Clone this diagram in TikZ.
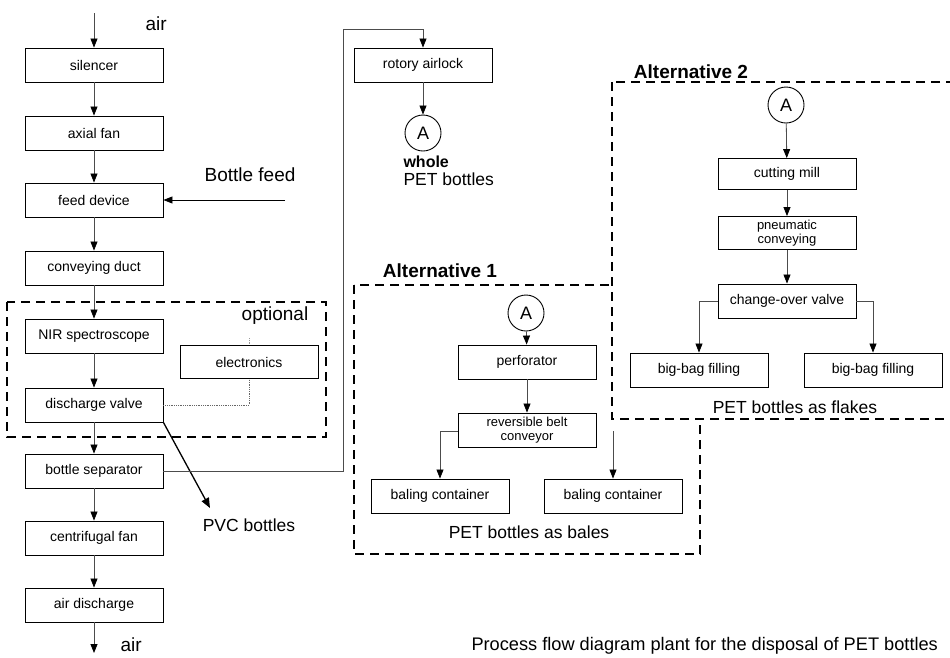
\documentclass[tikz,border=0pt]{standalone}
\usepackage{fontspec}
\setmainfont{Liberation Sans}
\usetikzlibrary{arrows.meta}

\begin{document}
\begin{tikzpicture}[x=1pt, y=-1pt,
  unit/.style={draw, line width=0.9pt, minimum width=138pt, minimum height=34pt,
    inner sep=1pt, align=center, font=\fontsize{14}{15}\selectfont},
  marker/.style={draw, circle, line width=0.9pt, minimum size=36pt, inner sep=0pt,
    font=\fontsize{18}{18}\selectfont},
  conn/.style={draw=black!70, line width=0.8pt},
  flow/.style={conn, -{Triangle[length=9pt, width=7pt, black]}},
  frame/.style={dash pattern=on 9pt off 6pt, line width=1.5pt},
  big/.style={font=\fontsize{19}{21}\selectfont},
  mid/.style={font=\fontsize{17.5}{18}\selectfont},
  head/.style={font=\fontsize{19}{21}\selectfont\bfseries}]

\useasboundingbox (0,0) rectangle (950,657);

\draw[frame] (7,302) rectangle (326,437);
\draw[frame] (354,285) rectangle (700,554);
\draw[frame, fill=white] (612,82) rectangle (964,419);

\node[unit] (silencer) at (94,65) {silencer};
\node[unit] (axial) at (94,133) {axial fan};
\node[unit] (feed) at (94,200) {feed device};
\node[unit] (duct) at (94,268) {conveying duct};
\node[unit] (nir) at (94,336) {NIR spectroscope};
\node[unit] (valve) at (94,405) {discharge valve};
\node[unit] (sep) at (94,471) {bottle separator};
\node[unit] (cfan) at (94,538) {centrifugal fan};
\node[unit] (outlet) at (94,605) {air discharge};
\node[unit, minimum height=33pt] (elec) at (249,362) {electronics};

\node[big, anchor=base west] (airtop) at (142,30) {air};
\node[big, anchor=base west] (airbot) at (117,651) {air};
\node[big] (feedtxt) at (250,175) {Bottle feed};
\node[big] (opttxt) at (275,316) {optional};
\node[mid] (pvctxt) at (249,525) {PVC bottles};

\node[unit] (airlock) at (423,65) {rotory airlock};
\node[marker] (a0) at (423,133) {A};
\node[mid, anchor=west, align=left] (wholetxt) at (400,171)
  {\fontsize{16}{18}\selectfont\bfseries whole\\PET bottles};

\node[head] (alt1) at (440,271) {Alternative 1};
\node[marker] (a1) at (526,313) {A};
\node[unit] (perf) at (527,362) {perforator};
\node[unit, font=\fontsize{13}{14.5}\selectfont] (belt) at (527,430) {reversible belt\\conveyor};
\node[unit] (bale1) at (440,496) {baling container};
\node[unit] (bale2) at (613,496) {baling container};
\node[mid] (balestxt) at (529,532) {PET bottles as bales};

\node[head] (alt2) at (691,72) {Alternative 2};
\node[marker] (a2) at (786,105) {A};
\node[unit, minimum height=31pt] (mill) at (787,174) {cutting mill};
\node[unit, minimum height=33pt, font=\fontsize{13}{14.5}\selectfont] (pneu) at (787,233) {pneumatic\\conveying};
\node[unit] (switch) at (787,301) {change-over valve};
\node[unit] (bag1) at (699,370) {big-bag filling};
\node[unit] (bag2) at (873,370) {big-bag filling};
\node[mid] (flakestxt) at (795,407) {PET bottles as flakes};

\node[anchor=base west, font=\fontsize{18.2}{20}\selectfont] (caption) at (468,650)
  {Process flow diagram plant for the disposal of PET bottles};

\coordinate (airin) at (94,13);
\coordinate (airout) at (94,653);
\coordinate (feedin) at (285,200);
\coordinate (turn) at (343,29);
\coordinate (pvc) at (210,508);
\coordinate (stub) at (249,338);
\coordinate (belt2) at (613,431);

\draw[flow] (airin) -- (silencer);
\draw[flow] (silencer) -- (axial);
\draw[flow] (axial) -- (feed);
\draw[flow] (feed) -- (duct);
\draw[flow] (duct) -- (nir);
\draw[flow] (nir) -- (valve);
\draw[flow] (valve) -- (sep);
\draw[flow] (sep) -- (cfan);
\draw[flow] (cfan) -- (outlet);
\draw[flow] (outlet) -- (airout);
\draw[flow, draw=black] (feedin) -- (feed.east);
\draw[densely dotted, black!60, line width=0.8pt] (valve.east) -| (elec.south);
\draw[densely dotted, black!40, line width=0.8pt] (stub) -- (elec.north);
\draw[line width=1.3pt, -{Triangle[length=10pt, width=8pt]}] (valve.south east) -- (pvc);

\draw[flow] (sep.east) -| (turn) -| (airlock.north);
\draw[flow] (airlock) -- (a0);

\draw[flow] (a1) -- (perf);
\draw[flow] (perf) -- (belt);
\draw[flow] (belt.west) ++(0,1) -| (bale1.north);
\draw[flow] (belt2) -- (bale2.north);

\draw[flow] (a2) -- (mill);
\draw[flow] (mill) -- (pneu);
\draw[flow] (pneu) -- (switch);
\draw[flow] (switch.west) -| (bag1.north);
\draw[flow] (switch.east) -| (bag2.north);
\end{tikzpicture}
\end{document}
